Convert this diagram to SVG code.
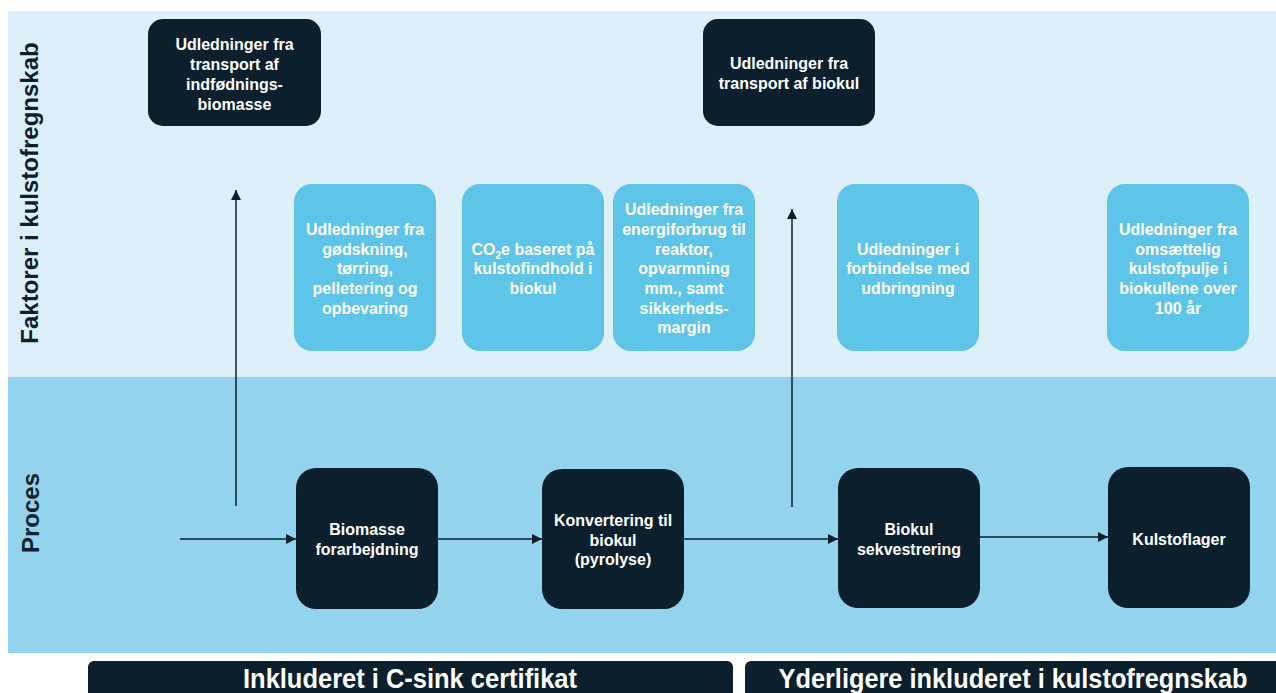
<svg xmlns="http://www.w3.org/2000/svg" width="1276" height="693" viewBox="0 0 1276 693">
<defs>
<marker id="ah" viewBox="0 0 10 10" refX="10" refY="5" markerWidth="10" markerHeight="10" markerUnits="userSpaceOnUse" orient="auto">
<path d="M0,0 L10,5 L0,10 z" fill="#0B1F2D"/>
</marker>
<style>
.t{font-family:"Liberation Sans",Arial,sans-serif;font-weight:bold;font-size:16px;fill:#fff;text-anchor:middle}
.dark{fill:#0B1F2D}
.light{fill:#5EC4E8}
.conn{stroke:#0B1F2D;stroke-width:1.5;fill:none;marker-end:url(#ah)}
.side{font-family:"Liberation Sans",Arial,sans-serif;font-weight:bold;font-size:24px;fill:#0B1F2D;text-anchor:middle}
.bar{font-family:"Liberation Sans",Arial,sans-serif;font-weight:bold;font-size:27px;fill:#fff;text-anchor:middle}
</style>
</defs>
<rect width="1276" height="693" fill="#fff"/>
<rect x="8" y="11" width="1268" height="366" fill="#DDF0FA"/>
<rect x="8" y="377" width="1268" height="276" fill="#94D3EE"/>
<text class="side" transform="translate(38,193) rotate(-90)">Faktorer i kulstofregnskab</text>
<text class="side" transform="translate(39,513) rotate(-90)">Proces</text>

<g id="connectors">
<line class="conn" x1="236" y1="506" x2="236" y2="190"/>
<line class="conn" x1="792" y1="507" x2="792" y2="209"/>
<line class="conn" x1="180" y1="539" x2="296" y2="539"/>
<line class="conn" x1="438" y1="539" x2="542" y2="539"/>
<line class="conn" x1="684" y1="539" x2="838" y2="539"/>
<line class="conn" x1="980" y1="537" x2="1108" y2="537"/>
</g>

<g id="n-transport-biomasse">
<rect class="dark" x="148" y="19" width="173" height="107" rx="15"/>
<text class="t"><tspan x="234.5" y="49.5">Udledninger fra</tspan><tspan x="234.5" y="69.5">transport af</tspan><tspan x="234.5" y="89.5">indfødnings-</tspan><tspan x="234.5" y="109.5">biomasse</tspan></text>
</g>
<g id="n-transport-biokul">
<rect class="dark" x="703" y="19" width="172" height="107" rx="15"/>
<text class="t"><tspan x="789" y="68.5">Udledninger fra</tspan><tspan x="789" y="88.5">transport af biokul</tspan></text>
</g>
<g id="n-godskning">
<rect class="light" x="294" y="184" width="142" height="167" rx="18"/>
<text class="t"><tspan x="365" y="234.5">Udledninger fra</tspan><tspan x="365" y="254.5">gødskning,</tspan><tspan x="365" y="274">tørring,</tspan><tspan x="365" y="294">pelletering og</tspan><tspan x="365" y="313.5">opbevaring</tspan></text>
</g>
<g id="n-co2e">
<rect class="light" x="462" y="184" width="142" height="167" rx="18"/>
<text class="t"><tspan x="533" y="254.5">CO<tspan font-size="10" dy="4">2</tspan><tspan dy="-4">e baseret på</tspan></tspan><tspan x="533" y="274">kulstofindhold i</tspan><tspan x="533" y="293.5">biokul</tspan></text>
</g>
<g id="n-energi">
<rect class="light" x="613" y="184" width="142" height="167" rx="18"/>
<text class="t"><tspan x="684" y="214.5">Udledninger fra</tspan><tspan x="684" y="234.5">energiforbrug til</tspan><tspan x="684" y="254.5">reaktor,</tspan><tspan x="684" y="274">opvarmning</tspan><tspan x="684" y="293.5">mm., samt</tspan><tspan x="684" y="313.5">sikkerheds-</tspan><tspan x="684" y="332.5">margin</tspan></text>
</g>
<g id="n-udbringning">
<rect class="light" x="837" y="184" width="142" height="167" rx="18"/>
<text class="t"><tspan x="908" y="254.5">Udledninger i</tspan><tspan x="908" y="274">forbindelse med</tspan><tspan x="908" y="293.5">udbringning</tspan></text>
</g>
<g id="n-omsaettelig">
<rect class="light" x="1107" y="184" width="142" height="167" rx="18"/>
<text class="t"><tspan x="1178" y="234.5">Udledninger fra</tspan><tspan x="1178" y="254.5">omsættelig</tspan><tspan x="1178" y="274">kulstofpulje i</tspan><tspan x="1178" y="294">biokullene over</tspan><tspan x="1178" y="313.5">100 år</tspan></text>
</g>

<g id="n-biomasse">
<rect class="dark" x="296" y="468" width="142" height="141" rx="20"/>
<text class="t"><tspan x="367" y="534.5">Biomasse</tspan><tspan x="367" y="554.5">forarbejdning</tspan></text>
</g>
<g id="n-konvertering">
<rect class="dark" x="542" y="469" width="142" height="140" rx="20"/>
<text class="t"><tspan x="613" y="525.5">Konvertering til</tspan><tspan x="613" y="545.5">biokul</tspan><tspan x="613" y="564.5">(pyrolyse)</tspan></text>
</g>
<g id="n-sekvestrering">
<rect class="dark" x="838" y="468" width="142" height="140" rx="20"/>
<text class="t"><tspan x="909" y="534.5">Biokul</tspan><tspan x="909" y="554.5">sekvestrering</tspan></text>
</g>
<g id="n-kulstoflager">
<rect class="dark" x="1108" y="467" width="142" height="141" rx="20"/>
<text class="t"><tspan x="1179" y="544.5">Kulstoflager</tspan></text>
</g>

<g id="bar-csink">
<rect class="dark" x="88" y="661" width="645" height="45" rx="6"/>
<text class="bar" x="410" y="688" textLength="334" lengthAdjust="spacingAndGlyphs">Inkluderet i C-sink certifikat</text>
</g>
<g id="bar-kulstof">
<rect class="dark" x="745" y="661" width="545" height="45" rx="6"/>
<text class="bar" x="1013" y="688" textLength="469" lengthAdjust="spacingAndGlyphs">Yderligere inkluderet i kulstofregnskab</text>
</g>
</svg>
